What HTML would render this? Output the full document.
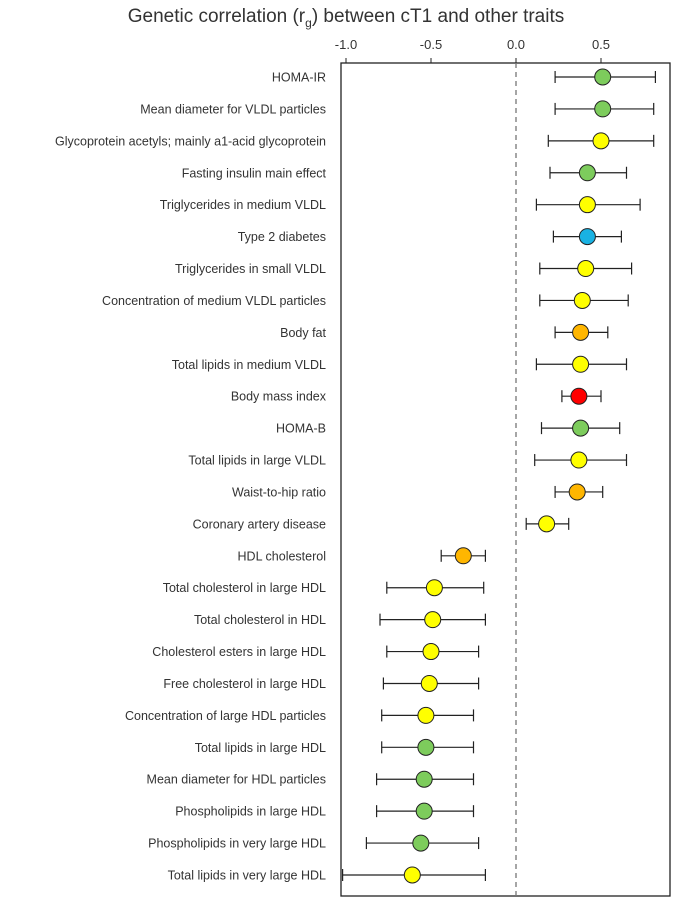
<!DOCTYPE html>
<html><head><meta charset="utf-8"><style>
body{margin:0;background:#fff;}
svg text{font-family:"Liberation Sans",Arial,sans-serif;fill:#333;}
</style></head><body>
<svg id="chart" width="692" height="902" xmlns="http://www.w3.org/2000/svg"></svg>
<script>
const traits=["HOMA-IR","Mean diameter for VLDL particles","Glycoprotein acetyls; mainly a1-acid glycoprotein","Fasting insulin main effect","Triglycerides in medium VLDL","Type 2 diabetes","Triglycerides in small VLDL","Concentration of medium VLDL particles","Body fat","Total lipids in medium VLDL","Body mass index","HOMA-B","Total lipids in large VLDL","Waist-to-hip ratio","Coronary artery disease","HDL cholesterol","Total cholesterol in large HDL","Total cholesterol in HDL","Cholesterol esters in large HDL","Free cholesterol in large HDL","Concentration of large HDL particles","Total lipids in large HDL","Mean diameter for HDL particles","Phospholipids in large HDL","Phospholipids in very large HDL","Total lipids in very large HDL"];
const rg=[0.51,0.51,0.50,0.42,0.42,0.42,0.41,0.39,0.38,0.38,0.37,0.38,0.37,0.36,0.18,-0.31,-0.48,-0.49,-0.50,-0.51,-0.53,-0.53,-0.54,-0.54,-0.56,-0.61];
const lower=[0.23,0.23,0.19,0.20,0.12,0.22,0.14,0.14,0.23,0.12,0.27,0.15,0.11,0.23,0.06,-0.44,-0.76,-0.80,-0.76,-0.78,-0.79,-0.79,-0.82,-0.82,-0.88,-1.02];
const upper=[0.82,0.81,0.81,0.65,0.73,0.62,0.68,0.66,0.54,0.65,0.50,0.61,0.65,0.51,0.31,-0.18,-0.19,-0.18,-0.22,-0.22,-0.25,-0.25,-0.25,-0.25,-0.22,-0.18];
const groups=["g","g","y","g","y","b","y","y","o","y","r","g","y","o","y","o","y","y","y","y","y","g","g","g","g","y"];
const tickVals=[-1.0,-0.5,0.0,0.5];
const tickLabels=["-1.0","-0.5","0.0","0.5"];
const colors={g:"#7dcc5c",y:"#ffff00",b:"#19b2e3",o:"#ffb600",r:"#ff0000"};
const svg=document.getElementById('chart');
const NS="http://www.w3.org/2000/svg";
const L=341,R=670,T=63,B=896;
const x=v=>516+170*v;
const y=i=>77+i*31.92;
function mk(tag,attrs,parent){const e=document.createElementNS(NS,tag);for(const k in attrs)e.setAttribute(k,attrs[k]);(parent||svg).appendChild(e);return e;}
const title=mk('text',{x:346,y:22,'text-anchor':'middle','font-size':19});


title.innerHTML='Genetic correlation (r<tspan font-size="12" dy="5">g</tspan><tspan dy="-5">) between cT1 and other traits</tspan>';
const frame=mk('rect',{x:L,y:T,width:R-L,height:B-T,fill:'none',stroke:'#222','stroke-width':1.3});


tickVals.forEach((v,i)=>{
  const t=mk('line',{x1:x(v),x2:x(v),y1:T,y2:T-5,stroke:'#222'});
  
  
  const tl=mk('text',{x:x(v),y:T-14,'text-anchor':'middle','font-size':13});
  
  
  tl.textContent=tickLabels[i];
});
const zl=mk('line',{x1:x(0),x2:x(0),y1:T,y2:B,stroke:'#777','stroke-dasharray':'5,4','stroke-width':1.3});


traits.forEach((tr,i)=>{
  const yy=y(i);
  const lab=mk('text',{x:326,y:yy+4.5,'text-anchor':'end','font-size':12.5});
  
  
  lab.textContent=tr;
  const g=mk('g',{});
  
  
  mk('line',{x1:x(lower[i]),x2:x(upper[i]),y1:yy,y2:yy,stroke:'#222','stroke-width':1.2},g);
  mk('line',{x1:x(lower[i]),x2:x(lower[i]),y1:yy-6,y2:yy+6,stroke:'#222','stroke-width':1.2},g);
  mk('line',{x1:x(upper[i]),x2:x(upper[i]),y1:yy-6,y2:yy+6,stroke:'#222','stroke-width':1.2},g);
  const c=mk('circle',{cx:x(rg[i]),cy:yy,r:8,fill:colors[groups[i]],stroke:'#222','stroke-width':1},g);
  
  
});
</script>
</body></html>
